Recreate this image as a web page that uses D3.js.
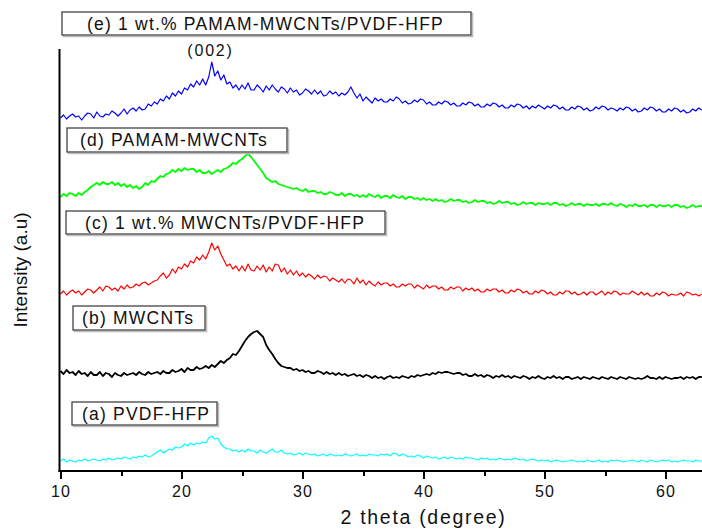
<!doctype html>
<html>
<head>
<style>
  body { margin: 0; background: #fff; font-family: Arial, "Liberation Sans", sans-serif; }
  .axis path, .axis line { stroke: #000; stroke-width: 2px; shape-rendering: crispEdges; }
  .axis text { font-size: 16px; letter-spacing: 1px; fill: #111; font-family: Arial, "Liberation Sans", sans-serif; }
  .trace { fill: none; stroke-linejoin: round; }
  .tag rect.box { fill: #fff; stroke: #444; stroke-width: 1.3px; }
  .tag rect.shadow { fill: none; stroke: #bbb; stroke-width: 1.5px; }
  .tag text { font-size: 17.5px; letter-spacing: 1.2px; fill: #111; }
</style>
<script src="https://d3js.org/d3.v7.min.js"></script>
</head>
<body>
<script>
// 2 theta sampled every 0.25 degree from 10 to 63
var thetaStart = 10, thetaStep = 0.25;

// intensities (a.u.), one group of 4 per degree
var pvdf = [
  10,12,9,11, 10,9,11,10, 12,10,11,12, 11,10,12,11, 13,11,12,13, 12,14,13,12, 14,13,15,14, 16,14,15,17,
  19,21,18,20, 22,21,24,23, 24,27,25,28, 26,28,27,29, 28,33,35,32, 33,27,24,22, 22,20,21,19, 21,19,22,20,
  20,18,21,19, 18,20,22,19, 19,21,18,17, 18,16,17,18, 16,18,17,16, 17,15,16,17, 15,17,16,15, 16,15,17,16,
  15,16,17,15, 16,15,17,16, 16,15,17,16, 17,15,18,17, 15,17,16,14, 15,14,16,15, 13,15,14,13, 14,12,13,14,
  12,14,13,12, 13,12,14,13, 13,12,11,13, 12,13,11,12, 11,13,12,11, 12,11,13,12, 11,12,10,11, 12,11,10,11,
  10,11,9,10, 11,10,9,10, 10,11,10,9, 10,9,11,10, 9,10,11,9, 10,9,11,10, 11,10,9,10, 10,11,10,9,
  11,10,9,11, 10,9,10,11, 10,11,9,10, 9,10,11,10, 10,9,11,10, 10
];
var mwcnt = [
  100,97,101,98, 99,96,100,97, 98,95,99,96, 96,99,95,98, 97,94,98,96, 95,98,96,97, 98,96,99,97, 96,99,97,98,
  99,97,100,98, 98,101,99,100, 102,99,103,101, 101,104,102,103, 105,103,106,104, 107,110,108,111, 113,117,116,120, 125,130,134,137,
  139,140,137,134, 126,121,117,112, 108,105,104,103, 103,101,102,100, 101,99,100,98, 98,100,99,97, 99,97,98,96, 98,96,97,95,
  96,97,95,96, 94,96,95,93, 95,93,94,92, 94,95,93,94, 93,95,94,93, 95,94,96,95, 96,97,96,98, 97,99,98,99,
  99,98,97,98, 98,96,97,95, 95,97,95,96, 94,96,95,93, 95,94,96,94, 95,93,95,94, 93,95,94,92, 94,93,95,93,
  92,94,93,95, 93,94,92,94, 94,92,93,94, 92,94,93,92, 94,93,92,94, 93,92,94,93, 92,94,93,92, 94,93,92,93,
  92,93,95,93, 93,92,94,92, 94,93,92,93, 93,94,92,94, 93,94,92,94, 94
];
var mwcntPvdf = [
  177,180,176,179, 181,178,180,176, 179,182,181,178, 181,184,180,185, 184,181,183,180, 185,182,186,183, 184,187,185,188, 189,186,188,190,
  191,195,198,193, 196,202,198,204, 202,207,204,210, 208,214,211,216, 212,219,228,221, 225,217,211,205, 207,202,205,200, 205,200,207,201,
  200,205,201,206, 199,204,200,207, 206,199,203,197, 201,196,200,195, 198,194,197,195, 192,196,193,195, 194,190,193,191, 189,192,188,192,
  191,187,193,188, 191,186,190,187, 185,189,186,188, 188,185,187,184, 184,187,185,187, 187,183,186,184, 182,186,183,185, 185,182,184,181,
  181,184,182,184, 184,180,183,181, 183,180,182,179, 179,182,180,182, 182,179,181,178, 178,181,179,182, 181,178,180,177, 177,180,178,181,
  180,177,179,176, 176,179,177,180, 180,177,179,176, 177,179,176,179, 179,176,178,180, 176,179,177,180, 179,176,178,177, 177,180,178,176,
  179,176,178,175, 175,178,176,179, 178,175,177,176, 176,178,175,179, 178,176,177,175, 177
];
var pamam = [
  274,277,275,278, 277,275,278,276, 279,281,284,286, 288,286,289,287, 287,289,286,288, 285,287,284,286, 283,285,282,284, 288,286,290,289,
  292,295,294,297, 298,301,299,302, 300,303,301,302, 302,299,301,298, 298,300,297,299, 301,299,302,303, 305,308,307,310, 312,315,317,314,
  310,306,302,298, 293,291,289,290, 287,286,285,284, 283,282,283,281, 280,282,279,280, 280,278,279,277, 277,279,278,276, 276,278,275,277,
  277,275,276,274, 276,274,277,275, 274,276,273,275, 275,273,276,274, 273,275,272,274, 274,272,273,271, 273,271,272,270, 272,270,271,269,
  270,272,270,271, 271,269,270,268, 269,271,269,270, 270,268,269,267, 268,270,268,269, 269,267,268,266, 267,269,267,268, 268,266,268,267,
  267,268,266,268, 268,266,267,265, 266,268,266,267, 267,265,267,266, 266,267,265,267, 267,266,268,266, 265,267,266,264, 266,265,267,265,
  265,266,264,266, 266,264,266,265, 265,266,264,266, 266,264,265,263, 264,266,264,265, 265
];
var pamamPvdf = [
  353,356,352,355, 357,354,355,351, 355,358,357,353, 359,355,354,357, 356,360,358,355, 358,362,357,361, 363,360,364,361, 362,367,365,369,
  367,372,370,375, 372,378,375,380, 377,383,381,387, 384,390,386,392, 386,394,409,395, 400,391,396,387, 389,383,386,381, 386,382,388,381,
  381,386,383,379, 385,381,386,382, 379,384,382,378, 383,379,381,376, 378,382,380,377, 381,377,380,375, 376,380,377,379, 375,378,376,379,
  384,378,373,377, 370,374,371,368, 373,370,372,369, 369,372,370,374, 372,368,370,367, 368,371,369,372, 371,367,369,366, 366,369,367,370,
  369,366,368,365, 365,368,366,369, 368,365,367,364, 364,367,365,368, 367,364,366,363, 363,366,364,367, 366,363,365,362, 365,363,366,364,
  362,365,363,366, 365,362,364,361, 361,364,362,365, 364,361,363,360, 361,364,362,365, 364,361,363,362, 360,363,361,364, 363,360,362,359,
  360,363,361,364, 363,360,362,359, 359,362,360,363, 362,359,361,358, 359,362,360,363, 361
];

var series = [
  { name: '(a) PVDF-HFP', values: pvdf, color: '#00ffff', w: 1.2 },
  { name: '(b) MWCNTs', values: mwcnt, color: '#000000', w: 1.8 },
  { name: '(c) 1 wt.% MWCNTs/PVDF-HFP', values: mwcntPvdf, color: '#ff0000', w: 1.2 },
  { name: '(d) PAMAM-MWCNTs', values: pamam, color: '#00ff00', w: 1.8 },
  { name: '(e) 1 wt.% PAMAM-MWCNTs/PVDF-HFP', values: pamamPvdf, color: '#0000ff', w: 1.2 }
];

var majorTicks = [10, 20, 30, 40, 50, 60];
var minorTicks = [15, 25, 35, 45, 55];

var W = 702, H = 530;
var plotLeft = 59.5, plotTop = 49, plotBottom = 471;

var x = d3.scaleLinear().domain([10, 63]).range([60.5, 701.8]);
var y = d3.scaleLinear().domain([0, 422]).range([plotBottom, plotTop]);

var svg = d3.select('body').append('svg')
  .attr('width', W).attr('height', H);

svg.append('defs').append('clipPath').attr('id', 'plot')
  .append('rect').attr('x', plotLeft).attr('y', 0).attr('width', W - plotLeft).attr('height', plotBottom);

// traces
var line = d3.line()
  .x((d, i) => x(thetaStart + i * thetaStep))
  .y(d => y(d));

svg.append('g').attr('clip-path', 'url(#plot)')
  .selectAll('path')
  .data(series)
  .enter().append('path')
  .attr('class', 'trace')
  .attr('d', d => line(d.values))
  .attr('stroke', d => d.color)
  .attr('stroke-width', d => d.w);

// axes
svg.append('g')
  .attr('class', 'axis')
  .attr('transform', `translate(0,${plotBottom})`)
  .call(d3.axisBottom(x).tickValues(majorTicks).tickSize(8).tickSizeOuter(0).tickPadding(7).tickFormat(d3.format('d')))
  .call(g => g.select('.domain').remove());

svg.append('g')
  .attr('class', 'axis')
  .attr('transform', `translate(0,${plotBottom})`)
  .call(d3.axisBottom(x).tickValues(minorTicks).tickSize(5).tickFormat(''))
  .call(g => g.select('.domain').remove());

svg.append('line')
  .attr('x1', plotLeft - 1).attr('x2', W).attr('y1', plotBottom).attr('y2', plotBottom)
  .attr('stroke', '#000').attr('stroke-width', 2);
svg.append('line')
  .attr('x1', plotLeft).attr('x2', plotLeft).attr('y1', plotTop).attr('y2', plotBottom + 1)
  .attr('stroke', '#000').attr('stroke-width', 2);

// axis titles
svg.append('text')
  .text('2 theta (degree)')
  .attr('x', 423.5).attr('y', 524)
  .attr('text-anchor', 'middle')
  .style('font-size', '19.5px').style('letter-spacing', '1.7px').style('fill', '#111');

svg.append('text')
  .text('Intensity (a.u)')
  .attr('transform', 'translate(27,270) rotate(-90)')
  .attr('text-anchor', 'middle')
  .style('font-size', '19px').style('fill', '#111');

// peak label
svg.append('text')
  .text('(002)')
  .attr('x', 210.5).attr('y', 55.5)
  .attr('text-anchor', 'middle')
  .style('font-size', '16px').style('letter-spacing', '1.8px').style('fill', '#111');

// sample tags
var tagBoxes = [
  { x: 72, y: 402, w: 145, h: 23, pad: 10 },
  { x: 73, y: 306, w: 132, h: 24, pad: 9 },
  { x: 66, y: 211, w: 319, h: 23, pad: 19 },
  { x: 67, y: 128, w: 220, h: 24, pad: 13 },
  { x: 62, y: 12, w: 409, h: 23, pad: 25 }
];

var tag = svg.selectAll('.tag')
  .data(series)
  .enter().append('g')
  .attr('class', 'tag')
  .attr('transform', (d, i) => `translate(${tagBoxes[i].x},${tagBoxes[i].y})`);

tag.append('rect').attr('class', 'shadow')
  .attr('x', 1.5).attr('y', 1.5)
  .attr('width', (d, i) => tagBoxes[i].w).attr('height', (d, i) => tagBoxes[i].h);
tag.append('rect').attr('class', 'box')
  .attr('width', (d, i) => tagBoxes[i].w).attr('height', (d, i) => tagBoxes[i].h);
tag.append('text')
  .text(d => d.name)
  .attr('x', (d, i) => tagBoxes[i].pad)
  .attr('y', (d, i) => tagBoxes[i].h / 2 + 6);
</script>
</body>
</html>
